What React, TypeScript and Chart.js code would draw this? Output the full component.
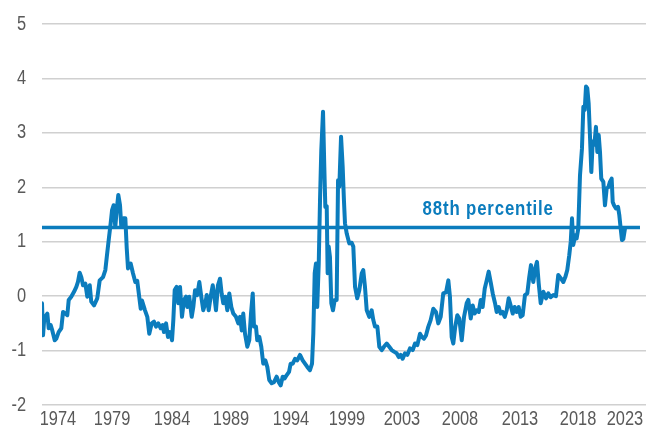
import React, { useEffect, useRef } from 'react';
import { Chart, registerables } from 'chart.js';

Chart.register(...registerables);

// Observation dates (decimal years) and standardized values
const years = [
  1973.0, 1973.09, 1973.2, 1973.46, 1973.58, 1973.75, 1973.89, 1974.1, 1974.24, 1974.44,
  1974.67, 1974.82, 1975.02, 1975.19, 1975.31, 1975.53, 1975.77, 1975.97, 1976.11, 1976.26,
  1976.4, 1976.55, 1976.75, 1976.92, 1977.13, 1977.26, 1977.5, 1977.78, 1977.99, 1978.28,
  1978.48, 1978.62, 1978.77, 1978.94, 1979.06, 1979.2, 1979.34, 1979.46, 1979.6, 1979.75,
  1979.86, 1980.03, 1980.21, 1980.33, 1980.44, 1980.67, 1980.87, 1981.07, 1981.24, 1981.39,
  1981.54, 1981.65, 1981.91, 1982.11, 1982.28, 1982.49, 1982.69, 1982.86, 1983.06, 1983.27,
  1983.44, 1983.55, 1983.73, 1983.9, 1984.07, 1984.25, 1984.36, 1984.48, 1984.65, 1984.79,
  1984.94, 1985.11, 1985.28, 1985.46, 1985.57, 1985.74, 1985.95, 1986.09, 1986.24, 1986.43,
  1986.61, 1986.78, 1986.95, 1987.13, 1987.25, 1987.42, 1987.59, 1987.77, 1987.88, 1988.05,
  1988.22, 1988.4, 1988.54, 1988.68, 1988.86, 1989.03, 1989.2, 1989.38, 1989.55, 1989.78,
  1989.98, 1990.13, 1990.28, 1990.41, 1990.56, 1990.76, 1990.93, 1991.08, 1991.23, 1991.34,
  1991.51, 1991.62, 1991.8, 1991.97, 1992.14, 1992.32, 1992.49, 1992.66, 1992.87, 1993.07,
  1993.3, 1993.48, 1993.65, 1993.82, 1994.0, 1994.17, 1994.37, 1994.51, 1994.69, 1994.89,
  1995.08, 1995.32, 1995.55, 1995.75, 1995.95, 1996.18, 1996.36, 1996.47, 1996.59, 1996.7,
  1996.81, 1996.94, 1997.05, 1997.16, 1997.31, 1997.42, 1997.51, 1997.63, 1997.71, 1997.8,
  1997.91, 1998.03, 1998.17, 1998.32, 1998.49, 1998.61, 1998.72, 1998.87, 1999.01, 1999.12,
  1999.21, 1999.36, 1999.58, 1999.79, 1999.93, 2000.08, 2000.27, 2000.45, 2000.66, 2000.79,
  2000.94, 2001.09, 2001.31, 2001.52, 2001.66, 2001.81, 2002.01, 2002.18, 2002.39, 2002.58,
  2002.82, 2003.04, 2003.25, 2003.45, 2003.68, 2003.86, 2004.03, 2004.2, 2004.4, 2004.6,
  2004.83, 2005.07, 2005.27, 2005.47, 2005.7, 2005.87, 2006.04, 2006.22, 2006.42, 2006.62,
  2006.85, 2007.08, 2007.28, 2007.49, 2007.71, 2007.95, 2008.15, 2008.29, 2008.44, 2008.58,
  2008.75, 2008.93, 2009.1, 2009.31, 2009.51, 2009.74, 2009.88, 2010.09, 2010.26, 2010.43,
  2010.6, 2010.78, 2010.95, 2011.12, 2011.3, 2011.47, 2011.64, 2011.81, 2011.99, 2012.19,
  2012.33, 2012.51, 2012.68, 2012.85, 2013.03, 2013.2, 2013.37, 2013.54, 2013.72, 2013.89,
  2014.06, 2014.24, 2014.41, 2014.58, 2014.78, 2014.98, 2015.15, 2015.3, 2015.5, 2015.67,
  2015.82, 2015.97, 2016.14, 2016.37, 2016.6, 2016.8, 2017.0, 2017.23, 2017.46, 2017.66,
  2017.87, 2018.1, 2018.27, 2018.44, 2018.61, 2018.74, 2018.85, 2018.96, 2019.13, 2019.25,
  2019.39, 2019.54, 2019.71, 2019.83, 2019.95, 2020.06, 2020.17, 2020.29, 2020.4, 2020.52,
  2020.64, 2020.78, 2020.92, 2021.04, 2021.16, 2021.27, 2021.38, 2021.56, 2021.7, 2021.85,
  2021.99, 2022.13, 2022.28, 2022.37, 2022.48, 2022.65, 2022.83, 2022.94, 2023.06, 2023.17,
  2023.29, 2023.43,
];

const values = [
  -0.13, -0.72, -0.4, -0.32, -0.59, -0.53, -0.63, -0.81, -0.78, -0.66,
  -0.59, -0.29, -0.32, -0.35, -0.07, -0.01, 0.08, 0.17, 0.26, 0.43,
  0.35, 0.2, 0.23, -0.01, 0.2, -0.1, -0.17, -0.04, 0.29, 0.35,
  0.48, 0.75, 1.03, 1.34, 1.58, 1.67, 1.27, 1.58, 1.86, 1.67,
  1.27, 1.43, 1.43, 0.88, 0.51, 0.6, 0.42, 0.26, 0.28, 0.02,
  -0.23, -0.08, -0.26, -0.38, -0.69, -0.5, -0.47, -0.56, -0.5, -0.59,
  -0.53, -0.66, -0.5, -0.75, -0.66, -0.81, -0.44, 0.11, 0.17, -0.13,
  0.17, -0.38, -0.07, -0.01, -0.2, -0.01, -0.38, -0.2, 0.11, 0.02,
  0.26, -0.01, -0.26, -0.13, 0.02, -0.26, -0.01, 0.2, 0.05, -0.26,
  0.2, 0.32, 0.05, -0.13, -0.01, -0.26, 0.05, -0.2, -0.32, -0.38,
  -0.5, -0.38, -0.63, -0.32, -0.69, -0.93, -0.81, -0.32, 0.05, -0.56,
  -0.56, -0.81, -0.75, -0.93, -1.24, -1.18, -1.3, -1.54, -1.6, -1.58,
  -1.48, -1.58, -1.64, -1.48, -1.51, -1.45, -1.39, -1.24, -1.24, -1.15,
  -1.18, -1.08, -1.18, -1.24, -1.3, -1.36, -1.24, -0.69, 0.42, 0.6,
  -0.2, 0.6, 1.76, 2.68, 3.39, 2.38, 1.64, 1.65, 0.42, 0.91,
  0.72, -0.13, -0.26, -0.07, -0.07, 2.13, 2.01, 2.93, 2.38, 1.76,
  1.34, 1.15, 0.97, 0.98, 0.91, 0.17, -0.04, 0.11, 0.42, 0.48,
  0.17, -0.26, -0.38, -0.26, -0.44, -0.56, -0.56, -0.93, -0.99, -0.93,
  -0.87, -0.93, -0.99, -1.02, -1.05, -1.12, -1.08, -1.15, -1.05, -1.08,
  -0.96, -0.99, -0.87, -0.9, -0.69, -0.75, -0.78, -0.72, -0.56, -0.44,
  -0.23, -0.29, -0.5, -0.38, 0.05, 0.07, 0.29, -0.01, -0.75, -0.87,
  -0.56, -0.35, -0.41, -0.81, -0.38, -0.13, -0.07, -0.41, -0.17, -0.32,
  -0.26, -0.29, -0.07, -0.2, 0.14, 0.29, 0.45, 0.26, 0.05, -0.13,
  -0.29, -0.2, -0.32, -0.29, -0.38, -0.26, -0.04, -0.17, -0.32, -0.2,
  -0.29, -0.2, -0.38, -0.35, 0.02, 0.05, 0.35, 0.57, 0.26, 0.51,
  0.63, 0.23, -0.13, 0.08, -0.04, 0.05, -0.02, 0.02, 0.0, 0.39,
  0.33, 0.26, 0.35, 0.48, 0.75, 1.0, 1.43, 0.94, 1.12, 1.06,
  1.24, 2.22, 2.71, 3.48, 3.42, 3.85, 3.82, 3.54, 2.96, 2.28,
  2.84, 2.78, 3.11, 2.65, 2.96, 2.65, 2.16, 2.1, 1.67, 1.98,
  2.0, 2.1, 2.16, 1.73, 1.67, 1.61, 1.64, 1.49, 1.24, 1.03,
  1.05, 1.24,
];

const percentileValue = 1.26;
const percentileSpan = [1973.0, 2024.73];
const percentileLabel = '88th percentile';
const percentileLabelYear = 2011.6;

const xTickYears = [1974.38, 1979.06, 1984.25, 1989.35, 1994.54, 1999.38, 2004.14, 2009.16, 2014.35, 2019.37, 2023.43];
const xTickLabels = ['1974', '1979', '1984', '1989', '1994', '1999', '2003', '2008', '2013', '2018', '2023'];

const X_MIN = 1973.0;
const X_MAX = 2025.25;
const Y_MIN = -2;
const Y_MAX = 5;

const BLUE = '#0b7cbd';
const TEXT = '#595959';
const FONT_FAMILY = '"Liberation Sans", Arial, sans-serif';
const CONDENSE = 0.82;

function condensedText(ctx: CanvasRenderingContext2D, text: string, x: number, y: number, align: CanvasTextAlign, sx: number) {
  ctx.save();
  ctx.translate(x, y);
  ctx.scale(sx, 1);
  ctx.textAlign = align;
  ctx.fillText(text, 0, 0);
  ctx.restore();
}

export default function App() {
  const ref = useRef<HTMLCanvasElement>(null);

  useEffect(() => {
    document.body.style.margin = '0';
    const canvas = ref.current;
    if (!canvas) return;

    const labelPlugin = {
      id: 'customLabels',
      afterDraw(chart: any) {
        const { ctx, scales } = chart;
        const xs = scales.x;
        const ys = scales.y;
        ctx.save();
        ctx.textBaseline = 'alphabetic';
        // axis labels
        ctx.fillStyle = TEXT;
        ctx.font = `20px ${FONT_FAMILY}`;
        ys.ticks.forEach((t: any) => {
          condensedText(ctx, String(t.value), ys.right - 16, ys.getPixelForValue(t.value) + 5.5, 'right', CONDENSE);
        });
        xTickYears.forEach((v, i) => {
          condensedText(ctx, xTickLabels[i], xs.getPixelForValue(v), xs.top + 20, 'center', CONDENSE);
        });
        // percentile label
        ctx.fillStyle = BLUE;
        ctx.font = `bold 20px ${FONT_FAMILY}`;
        try { (ctx as any).letterSpacing = '1px'; } catch (e) {}
        condensedText(
          ctx,
          percentileLabel,
          xs.getPixelForValue(percentileLabelYear),
          ys.getPixelForValue(percentileValue) - 13,
          'center',
          0.84
        );
        ctx.restore();
      },
    };

    const chart = new Chart(canvas, {
      type: 'line',
      data: {
        datasets: [
          {
            data: years.map((x, i) => ({ x, y: values[i] })),
            borderColor: BLUE,
            borderWidth: 4,
            pointRadius: 0,
            tension: 0,
            borderJoinStyle: 'round',
            borderCapStyle: 'round',
            order: 1,
          },
          {
            data: percentileSpan.map((x) => ({ x, y: percentileValue })),
            borderColor: BLUE,
            borderWidth: 3.5,
            pointRadius: 0,
            tension: 0,
            order: 2,
          },
        ],
      },
      options: {
        animation: false,
        responsive: false,
        layout: { padding: { top: 24, right: 0, left: 0, bottom: 0 } },
        plugins: { legend: { display: false }, tooltip: { enabled: false } },
        scales: {
          x: {
            type: 'linear',
            min: X_MIN,
            max: X_MAX,
            afterBuildTicks: (s: any) => {
              s.ticks = xTickYears.map((v) => ({ value: v }));
            },
            afterFit: (s: any) => {
              s.height = 21;
            },
            ticks: { display: false },
            grid: { display: false },
            border: { display: false },
          },
          y: {
            min: Y_MIN,
            max: Y_MAX,
            afterFit: (s: any) => {
              s.width = 42;
            },
            ticks: { stepSize: 1, display: false },
            grid: { color: '#d0d0d0', lineWidth: 1.5, drawTicks: false },
            border: { display: false },
          },
        },
      },
      plugins: [labelPlugin],
    } as any);

    return () => chart.destroy();
  }, []);

  return <canvas ref={ref} width={646} height={426} style={{ display: 'block' }} />;
}
